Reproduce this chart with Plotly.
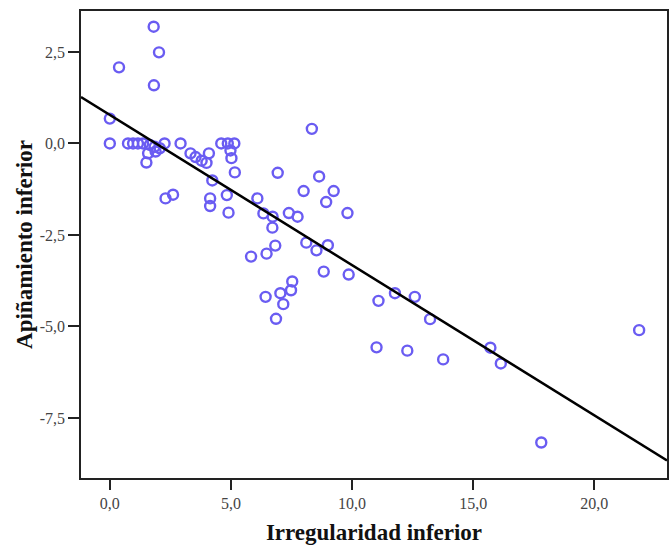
import plotly.graph_objects as go

# Data (x: Irregularidad inferior, y: Apiñamiento inferior)
x_vals = [1.81, 2.03, 0.38, 1.82, 0.0, 8.34, 0.0, 0.75, 0.96, 1.16, 1.37, 1.65, 1.85, 2.06,
          2.26, 1.58, 1.89, 1.51, 2.92, 3.33, 3.54, 3.79, 3.99, 4.09, 4.60, 4.87, 5.14, 4.98,
          5.02, 5.16, 4.23, 6.93, 8.64, 2.30, 2.61, 4.14, 4.14, 4.83, 4.90, 6.09, 6.34, 6.72,
          6.71, 7.39, 7.75, 8.00, 9.24, 8.93, 9.81, 5.83, 6.47, 6.83, 8.11, 8.53, 9.00, 8.83,
          9.86, 7.53, 7.48, 7.04, 6.43, 7.16, 6.86, 11.09, 11.77, 12.59, 13.22, 11.01, 12.28,
          13.76, 15.71, 16.14, 21.85, 17.81]
y_vals = [3.19, 2.49, 2.08, 1.59, 0.68, 0.40, 0.0, 0.0, 0.0, 0.0, 0.0, -0.04, -0.09, -0.13,
          0.0, -0.27, -0.22, -0.52, 0.0, -0.27, -0.37, -0.47, -0.53, -0.27, 0.0, 0.0, 0.0, -0.19,
          -0.40, -0.79, -1.01, -0.80, -0.90, -1.50, -1.40, -1.50, -1.71, -1.41, -1.89, -1.50,
          -1.91, -2.00, -2.30, -1.90, -2.00, -1.30, -1.30, -1.60, -1.90, -3.09, -3.01, -2.79,
          -2.71, -2.92, -2.78, -3.50, -3.58, -3.77, -4.01, -4.09, -4.19, -4.39, -4.79, -4.30,
          -4.09, -4.19, -4.80, -5.57, -5.66, -5.90, -5.58, -6.01, -5.10, -8.17]

# Fit line coefficients
fit_intercept = 0.781
fit_slope = -0.4105

x_range = [-1.19, 23.0]
y_range = [-9.14, 3.62]

x_tickvals = [0, 5, 10, 15, 20]
x_ticktext = ["0,0", "5,0", "10,0", "15,0", "20,0"]
y_tickvals = [2.5, 0, -2.5, -5, -7.5]
y_ticktext = ["2,5", "0,0", "-2,5", "-5,0", "-7,5"]

line_x = [x_range[0], x_range[1]]
line_y = [fit_intercept + fit_slope * v for v in line_x]

fig = go.Figure()
fig.add_trace(go.Scatter(
    x=x_vals, y=y_vals, mode="markers",
    marker=dict(symbol="circle-open", size=10, color="#6a5cf2", line=dict(width=2.4, color="#6a5cf2")),
    showlegend=False, cliponaxis=False,
))
fig.add_trace(go.Scatter(
    x=line_x, y=line_y, mode="lines",
    line=dict(color="black", width=2.5), showlegend=False,
))

serif = "Liberation Serif"
fig.update_layout(
    width=670, height=550,
    margin=dict(l=81, r=1, t=11, b=72),
    paper_bgcolor="white", plot_bgcolor="white",
    font=dict(family=serif, color="#333333"),
)
fig.update_xaxes(
    range=x_range, tickvals=x_tickvals, ticktext=x_ticktext,
    showgrid=False, zeroline=False,
    showline=True, linecolor="#222222", linewidth=1.5, mirror=True,
    ticks="outside", ticklen=10, tickwidth=1.5, tickcolor="#222222",
    tickfont=dict(family=serif, size=16, color="#444444"),
    title=dict(text="<b>Irregularidad inferior</b>", font=dict(family=serif, size=23, color="#111111"), standoff=13),
)
fig.update_yaxes(
    range=y_range, tickvals=y_tickvals, ticktext=y_ticktext,
    showgrid=False, zeroline=False,
    showline=True, linecolor="#222222", linewidth=1.5, mirror=True,
    ticks="outside", ticklen=11, tickwidth=1.5, tickcolor="#222222",
    tickfont=dict(family=serif, size=16, color="#444444"),
    title=dict(text="<b>Apiñamiento inferior</b>", font=dict(family=serif, size=23, color="#111111"), standoff=1),
)

fig.write_html("out.html")
